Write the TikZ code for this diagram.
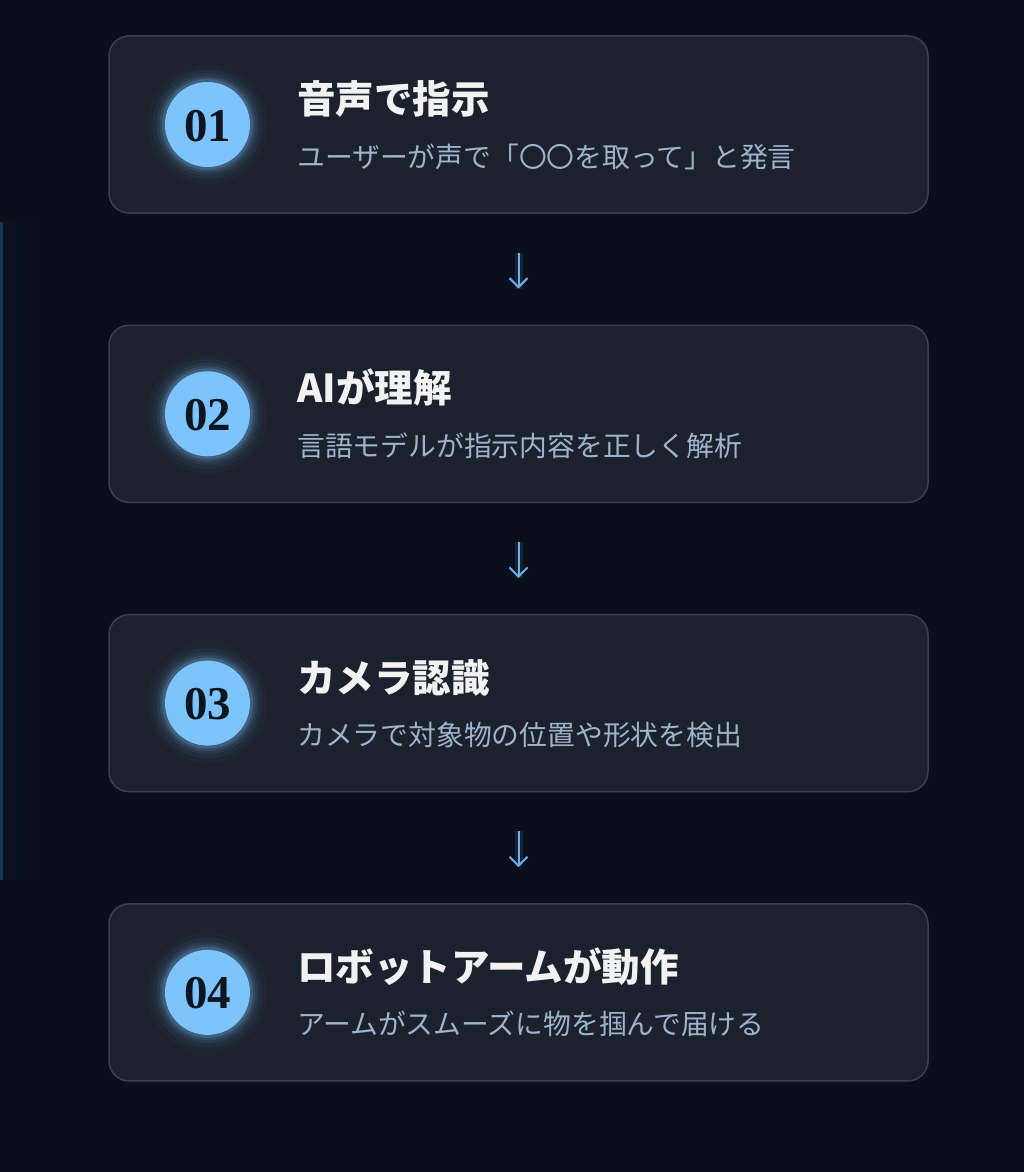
\documentclass[tikz,border=0pt]{standalone}
\usepackage{fontspec}
\setmainfont{Liberation Serif}
\newfontfamily\jp{Noto Sans CJK JP}
\usetikzlibrary{arrows.meta}
\definecolor{bg}{HTML}{0A0F1C}
\definecolor{boxfill}{HTML}{1B212D}
\definecolor{boxline}{HTML}{394150}
\definecolor{circ}{HTML}{7CC4FB}
\definecolor{numcol}{HTML}{0D1520}
\definecolor{titlecol}{HTML}{F2F2F2}
\definecolor{subcol}{HTML}{9FB4CC}
\definecolor{arrcol}{HTML}{6FB0E8}
\definecolor{sideline}{HTML}{173650}
\tikzset{
  stepbox/.style={draw=boxline, line width=1.5pt, fill=boxfill, rounded corners=20pt,
    minimum width=819pt, minimum height=177pt, inner sep=0pt},
  numtext/.style={font=\bfseries\fontsize{47}{47}\selectfont, text=numcol, inner sep=0pt},
  titletext/.style={font=\jp\bfseries\fontsize{38.5}{38.5}\selectfont, text=titlecol, inner sep=0pt},
  subtext/.style={font=\jp\fontsize{27.8}{27.8}\selectfont, text=subcol, inner sep=0pt},
  conn/.style={draw=arrcol, line width=2pt, -{Straight Barb[length=9pt,width=18pt,line width=2pt]},
    shorten <=39pt, shorten >=36pt},
  connglow/.style={draw=arrcol, line width=8pt, opacity=0.12, shorten <=39pt, shorten >=36pt}
}
\begin{document}
\begin{tikzpicture}[x=1pt,y=-1pt]
\fill[bg] (0,0) rectangle (1024,1172);
\useasboundingbox (0,0) rectangle (1024,1172);
% left side line with glow
\foreach \w/\o in {70/0.03,40/0.05,16/0.07}{
  \draw[sideline, line width=\w pt, opacity=\o] (1,222) -- (1,880);
}
\draw[sideline, line width=3pt] (1,222) -- (1,880);
\foreach \i/\t/\s in {
  1/{音声で指示}/{ユーザーが声で「〇〇を取って」と発言},
  2/{AIが理解}/{言語モデルが指示内容を正しく解析},
  3/{カメラ認識}/{カメラで対象物の位置や形状を検出},
  4/{ロボットアームが動作}/{アームがスムーズに物を掴んで届ける}}{
  \pgfmathsetmacro\yy{124.5+(\i-1)*289.3}
  \node[stepbox] (b\i) at (518.5,\yy) {};
  \foreach \r/\o in {60/0.03,55/0.05,51/0.08,48/0.12,45.5/0.18}{
    \fill[circ, opacity=\o] (207.5,\yy) circle (\r pt);
  }
  \node[circle, fill=circ, minimum size=85pt, inner sep=0pt] (c\i) at (207.5,\yy) {};
  \node[numtext, anchor=base] (n\i) at (207.5,\yy+16.5) {0\i};
  \node[titletext, anchor=base west] (t\i) at (297,\yy-11) {\t};
  \node[subtext, anchor=base west] (s\i) at (297,\yy+42.5) {\s};
}
\foreach \a/\b in {1/2,2/3,3/4}{
  \draw[connglow] (b\a.south) -- (b\b.north);
  \draw[conn] (b\a.south) -- (b\b.north);
}
\end{tikzpicture}
\end{document}
